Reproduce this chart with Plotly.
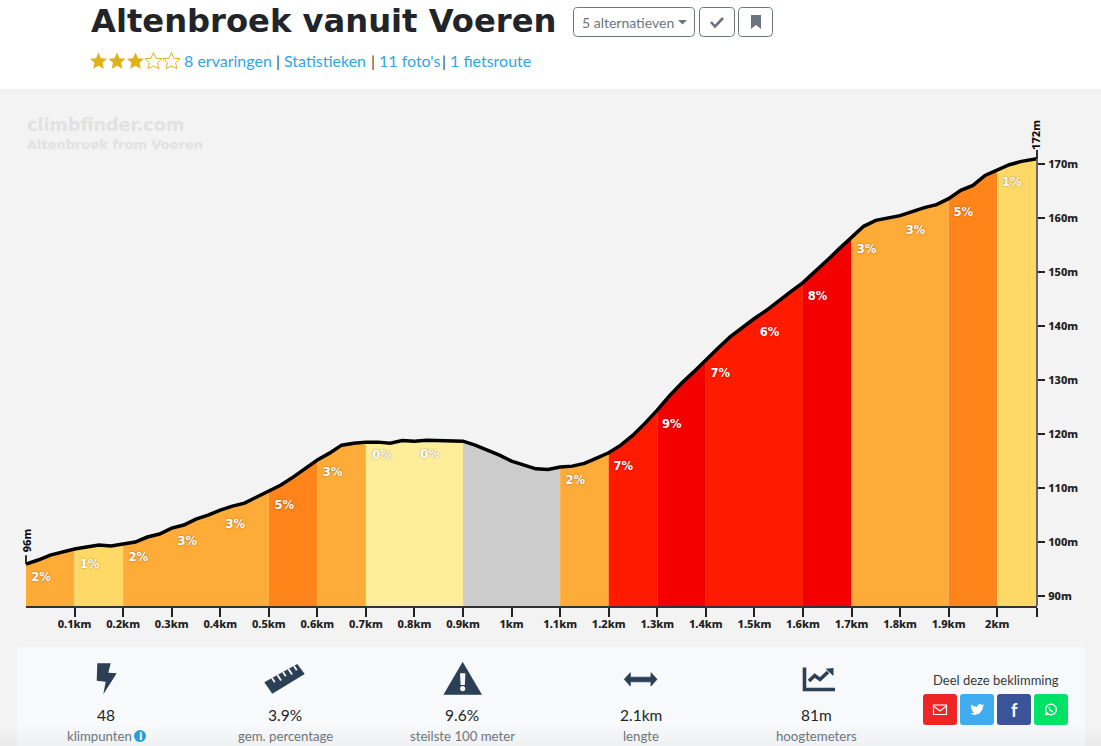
import plotly.graph_objects as go

W = 1101
H = 746

# profile, km and metres
km_points = [0, 0.025, 0.05, 0.075, 0.1, 0.125, 0.15, 0.175, 0.2, 0.225, 0.25, 0.275, 0.3, 0.325, 0.35,
             0.375, 0.4, 0.425, 0.45, 0.475, 0.5, 0.525, 0.55, 0.575, 0.6, 0.625, 0.65, 0.675, 0.7, 0.725,
             0.75, 0.775, 0.8, 0.825, 0.85, 0.875, 0.9, 0.925, 0.95, 0.975, 1.0, 1.025, 1.05, 1.075, 1.1,
             1.125, 1.15, 1.175, 1.2, 1.225, 1.25, 1.275, 1.3, 1.325, 1.35, 1.375, 1.4, 1.425, 1.45, 1.475,
             1.5, 1.525, 1.55, 1.575, 1.6, 1.625, 1.65, 1.675, 1.7, 1.725, 1.75, 1.775, 1.8, 1.825, 1.85,
             1.875, 1.9, 1.925, 1.95, 1.975, 2.0, 2.025, 2.05, 2.075, 2.082]
elevation = [95.93, 96.67, 97.59, 98.15, 98.70, 99.07, 99.44, 99.26, 99.63, 100.0, 100.93, 101.48, 102.59,
             103.15, 104.26, 105.0, 105.93, 106.67, 107.22, 108.33, 109.44, 110.56, 112.04, 113.70, 115.19,
             116.48, 117.96, 118.33, 118.52, 118.52, 118.33, 118.8, 118.7, 118.89, 118.83, 118.8, 118.7,
             117.96, 117.04, 116.11, 115.0, 114.26, 113.57, 113.46, 113.89, 114.07, 114.57, 115.56, 116.54,
             117.96, 119.81, 122.04, 124.44, 127.09, 129.44, 131.54, 133.83, 135.93, 138.02, 139.76, 141.43,
             142.96, 144.76, 146.43, 148.09, 150.06, 152.22, 154.39, 156.39, 158.52, 159.63, 160.06, 160.50,
             161.24, 161.98, 162.54, 163.65, 165.19, 166.11, 167.96, 169.02, 169.94, 170.56, 170.98, 171.06]

ORANGE = "#ffab38"
YELLOW = "#ffd966"
PALE = "#ffee99"
DARK = "#ff851b"
GREY = "#cccccc"
RED = "#ff1a00"
DEEP = "#f50000"

seg_edges = [0, 0.1, 0.2, 0.5, 0.6, 0.7, 0.9, 1.1, 1.2, 1.3, 1.4, 1.6, 1.7, 1.9, 2.0, 2.082]
seg_colors = [ORANGE, YELLOW, ORANGE, DARK, ORANGE, PALE, GREY, ORANGE, RED, DEEP, RED, DEEP, ORANGE, DARK, YELLOW]

grade_text = ["2%", "1%", "2%", "3%", "3%", "5%", "3%", "0%", "0%", "2%", "7%", "9%", "7%", "6%", "8%", "3%", "3%", "5%", "1%"]
grade_km = [0.031, 0.131, 0.231, 0.332, 0.431, 0.532, 0.631, 0.733, 0.832, 1.131, 1.23, 1.33, 1.43, 1.531, 1.63, 1.731, 1.832, 1.93, 2.03]
grade_elev = [93.4, 95.8, 97.1, 99.9, 103.2, 106.7, 112.7, 116.0, 116.2, 111.2, 113.8, 121.7, 131.2, 138.8, 145.4, 154.1, 157.7, 161.0, 166.6]

x_ticks = [0.1, 0.2, 0.3, 0.4, 0.5, 0.6, 0.7, 0.8, 0.9, 1.0, 1.1, 1.2, 1.3, 1.4, 1.5, 1.6, 1.7, 1.8, 1.9, 2.0, 2.082]
x_labels = ["0.1km", "0.2km", "0.3km", "0.4km", "0.5km", "0.6km", "0.7km", "0.8km", "0.9km", "1km", "1.1km",
            "1.2km", "1.3km", "1.4km", "1.5km", "1.6km", "1.7km", "1.8km", "1.9km", "2km", ""]
y_ticks = [90, 100, 110, 120, 130, 140, 150, 160, 170]
y_labels = ["90m", "100m", "110m", "120m", "130m", "140m", "150m", "160m", "170m"]

stat_values = ["48", "3.9%", "9.6%", "2.1km", "81m"]
stat_names = ["klimpunten", "gem. percentage", "steilste 100 meter", "lengte", "hoogtemeters"]
stat_x = [106, 285, 462, 641, 816]

BOLD = "DejaVu Sans"
AXIS = "Noto Sans"
BODY = "Lato"
INK = "#2b3f55"
LINK = "#2ea6e6"
MUTED = "#6c757d"


def px(x):
    return x / W


def py(y):
    return 1 - y / H


def poly(points):
    return "M " + " L ".join(f"{px(x):.5f},{py(y):.5f}" for x, y in points) + " Z"


shapes = []
annos = []


def box(x0, y0, x1, y1, fill, line=None, lw=1, opacity=None):
    s = dict(type="rect", xref="paper", yref="paper", x0=px(x0), x1=px(x1), y0=py(y0), y1=py(y1),
             fillcolor=fill, line=dict(color=line, width=lw) if line else dict(width=0), layer="below")
    if opacity is not None:
        s["opacity"] = opacity
    shapes.append(s)


def rounded(x0, y0, x1, y1, r, fill, line=None, lw=1):
    a, b, c, d = px(x0), px(x1), py(y0), py(y1)
    rx, ry = r / W, r / H
    path = (f"M {a + rx:.5f},{c:.5f} L {b - rx:.5f},{c:.5f} Q {b:.5f},{c:.5f} {b:.5f},{c - ry:.5f} "
            f"L {b:.5f},{d + ry:.5f} Q {b:.5f},{d:.5f} {b - rx:.5f},{d:.5f} L {a + rx:.5f},{d:.5f} "
            f"Q {a:.5f},{d:.5f} {a:.5f},{d + ry:.5f} L {a:.5f},{c - ry:.5f} Q {a:.5f},{c:.5f} {a + rx:.5f},{c:.5f} Z")
    shapes.append(dict(type="path", xref="paper", yref="paper", path=path, fillcolor=fill,
                       line=dict(color=line, width=lw) if line else dict(width=0), layer="below"))


def shape_poly(points, fill, line=None, lw=1):
    shapes.append(dict(type="path", xref="paper", yref="paper", path=poly(points), fillcolor=fill,
                       line=dict(color=line, width=lw) if line else dict(width=0), layer="below"))


def stroke(points, color, lw):
    path = "M " + " L ".join(f"{px(x):.5f},{py(y):.5f}" for x, y in points)
    shapes.append(dict(type="path", xref="paper", yref="paper", path=path,
                       line=dict(color=color, width=lw), layer="below"))


def circle(cx, cy, r, fill, line=None, lw=1):
    shapes.append(dict(type="circle", xref="paper", yref="paper", x0=px(cx - r), x1=px(cx + r),
                       y0=py(cy - r), y1=py(cy + r), fillcolor=fill,
                       line=dict(color=line, width=lw) if line else dict(width=0), layer="below"))


def text(x, y, s, size, color, family=BODY, weight=None, anchor="center"):
    font = dict(family=family, size=size, color=color)
    if weight:
        font["weight"] = weight
    annos.append(dict(x=px(x), y=py(y), xref="paper", yref="paper", text=s, showarrow=False,
                      xanchor=anchor, yanchor="middle", font=font, borderpad=0))


def star(cx, cy, r, filled):
    pts = []
    for dx, dy in [(0, -1), (0.28, -0.36), (0.95, -0.31), (0.45, 0.15), (0.59, 0.81),
                   (0, 0.48), (-0.59, 0.81), (-0.45, 0.15), (-0.95, -0.31), (-0.28, -0.36)]:
        pts.append((cx + dx * r, cy + dy * r))
    if filled:
        shape_poly(pts, "#dfb21d")
    else:
        shape_poly(pts, "rgba(0,0,0,0)", "#dfb21d", 1)


# page background
box(0, 89, W, H, "#f3f3f3")
box(17, 647, 1085, H, "#f8f9fa")
for i, y in enumerate(range(726, 746, 4)):
    box(0, y, W, y + 4, "#000000", opacity=0.006 * (i + 1))

# header
text(90, 21.5, "Altenbroek vanuit Voeren", 32.2, "#212529", family=BOLD, weight=700, anchor="left")
rounded(573.5, 7.5, 694.5, 36.5, 4, "#ffffff", MUTED)
rounded(699.5, 7.5, 734.5, 36.5, 4, "#ffffff", MUTED)
rounded(738.5, 7.5, 772.5, 36.5, 4, "#ffffff", MUTED)
text(580.5, 22, "5 alternatieven", 14, MUTED, anchor="left")
shape_poly([(678, 20), (687, 20), (682.5, 24.5)], MUTED)
stroke([(711, 22), (715, 26.5), (723, 18)], MUTED, 2.6)
shape_poly([(751, 15), (761, 15), (761, 29), (756, 25), (751, 29)], MUTED)

for cx, filled in zip([98.5, 117, 135.5, 153.5, 171.5], [True, True, True, False, False]):
    star(cx, 61.5, 9, filled)
text(182.5, 61, "8 ervaringen", 16, LINK, anchor="left")
text(275, 61, "|", 16, "#444444", anchor="left")
text(283, 61, "Statistieken", 16, LINK, anchor="left")
text(370, 61, "|", 16, "#444444", anchor="left")
text(378, 61, "11 foto's", 16, LINK, anchor="left")
text(441, 61, "|", 16, "#444444", anchor="left")
text(449, 61, "1 fietsroute", 16, LINK, anchor="left")

# watermark
text(26, 125, "climbfinder.com", 17.6, "#e2e2e2", family=BOLD, weight=700, anchor="left")
text(26, 144, "Altenbroek from Voeren", 13, "#e2e2e2", family=BOLD, weight=700, anchor="left")

# stats row
for x, v, n in zip(stat_x, stat_values, stat_names):
    text(x, 715, v, 15.5, "#212529")
    text(x if n != "klimpunten" else 99, 736, n, 13.2, MUTED)
circle(140, 736, 6, "#2a9fe0")
text(140, 736, "i", 10, "#ffffff", family=BOLD, weight=700)

# bolt
shape_poly([(97.3, 663.3), (110.7, 663.3), (108.3, 672.7), (116.7, 673.3), (103.3, 694.3), (105.7, 681.7), (96.7, 680.7)], INK)
# ruler
shape_poly([(264.3, 682.3), (297.3, 664), (304.7, 674), (272.3, 693.7)], INK)
for x, y, n in [(272, 678, 5), (277.5, 675, 6.5), (283, 672, 5), (288.5, 669, 6.5), (294, 666, 5)]:
    stroke([(x, y), (x + 0.55 * n, y + 0.85 * n)], "#f8f9fa", 1.8)
# warning
shape_poly([(462.7, 663.3), (480.7, 694), (444.7, 694)], INK, INK, 1.5)
shape_poly([(460, 673.3), (465.4, 673.3), (464.8, 685), (460.6, 685)], "#f8f9fa")
circle(462.7, 688.6, 2.6, "#f8f9fa")
# arrows
shape_poly([(624.3, 679.3), (630.3, 672.7), (630.3, 677.2), (651, 677.2), (651, 672.7), (657, 679.3),
            (651, 686), (651, 681.8), (630.3, 681.8), (630.3, 686)], INK, INK, 0.8)
# elevation icon
stroke([(804.5, 667.5), (804.5, 689.5), (835, 689.5)], INK, 3.6)
stroke([(809, 681), (814.7, 675.5), (820, 679.5), (828, 672)], INK, 3.6)
shape_poly([(825.5, 668.7), (833.5, 668), (833.5, 676)], INK)

# share box
text(995.5, 680, "Deel deze beklimming", 13, "#343a40")
rounded(923, 694, 957, 725, 3, "#ee2525")
rounded(960, 694, 994, 725, 3, "#41abf0")
rounded(997, 694, 1031, 725, 3, "#3b5398")
rounded(1034, 694, 1068, 725, 3, "#00e266")
box(933.5, 705, 946.5, 714.5, "rgba(0,0,0,0)", "#ffffff", 1.2)
stroke([(933.5, 706), (940, 711), (946.5, 706)], "#ffffff", 1.2)
bird = [(0, 0.85), (0.3, 0.82), (0.12, 0.6), (0.2, 0.58), (0.03, 0.32), (0.12, 0.35), (0.05, 0.05), (0.48, 0.3),
        (0.55, 0.08), (0.72, 0), (0.88, 0.08), (1, 0.03), (0.93, 0.2), (1, 0.17), (0.92, 0.3), (0.88, 0.55),
        (0.65, 0.88), (0.3, 1)]
shape_poly([(970 + 14 * a, 704 + 11 * b) for a, b in bird], "#ffffff")
text(1014.3, 709.5, "f", 18, "#ffffff", family="Lato", weight=700)
circle(1051, 709.5, 5.4, "rgba(0,0,0,0)", "#ffffff", 1.3)
shape_poly([(1045, 715.5), (1046, 712), (1048.5, 714.5)], "#ffffff")
stroke([(1049, 707), (1050, 710), (1053, 712)], "#ffffff", 1.3)

fig = go.Figure()

# one filled area per stretch of the climb
for start, end, color in zip(seg_edges[:-1], seg_edges[1:], seg_colors):
    xs = [k for k in km_points if start <= k <= end]
    ys = [e for k, e in zip(km_points, elevation) if start <= k <= end]
    fig.add_trace(go.Scatter(x=xs, y=ys, mode="lines", fill="tozeroy", fillcolor=color,
                             line=dict(width=0.5, color=color), hoverinfo="skip", showlegend=False))

fig.add_trace(go.Scatter(x=km_points, y=elevation, mode="lines", line=dict(color="#000000", width=3.5),
                         cliponaxis=False, hoverinfo="skip", showlegend=False))
fig.add_trace(go.Scatter(x=grade_km, y=grade_elev, mode="text", text=grade_text,
                         textfont=dict(family=BOLD, size=11.5, color="#ffffff", weight=700,
                                       shadow="0px 0px 2px rgba(0,0,0,0.45)"),
                         textposition="middle center", hoverinfo="skip", showlegend=False))

# right hand axis stops at the finish height
shapes.append(dict(type="line", xref="paper", yref="y", x0=px(1037), x1=px(1037), y0=88.146, y1=elevation[-1],
                   line=dict(color="#666666", width=2)))

# start and finish height markers
for k, e, label in [(km_points[0], elevation[0], "96m"), (km_points[-1], elevation[-1], "172m")]:
    x_paper = px(26) if k == 0 else px(1036)
    shapes.append(dict(type="line", xref="paper", yref="y", x0=px(26) if k == 0 else px(1037),
                       x1=px(26) if k == 0 else px(1037), y0=e, y1=e + 1.6,
                       line=dict(color="#000000", width=1.6)))
    annos.append(dict(x=x_paper, y=e + 4.4, xref="paper", yref="y", text=label, showarrow=False, textangle=-90,
                      xanchor="center", yanchor="middle",
                      font=dict(family=AXIS, size=11, color="#111111", weight=800)))

fig.update_layout(
    width=W,
    height=H,
    autosize=False,
    margin=dict(l=0, r=0, t=0, b=0),
    paper_bgcolor="#ffffff",
    plot_bgcolor="rgba(0,0,0,0)",
    showlegend=False,
    shapes=shapes,
    annotations=annos,
    xaxis=dict(domain=[px(26), px(1037)], range=[0, 2.082], tickmode="array", tickvals=x_ticks, ticktext=x_labels,
               ticks="outside", ticklen=9, tickwidth=1.5, tickcolor="#222222", showgrid=False, zeroline=False,
               showline=True, linecolor="#333333", linewidth=1.5, ticklabelstandoff=-2,
               tickfont=dict(family=AXIS, size=11, color="#222222", weight=800), tickangle=0),
    yaxis=dict(domain=[py(606), py(120)], range=[88.146, 178.229], side="right", tickmode="array",
               tickvals=y_ticks, ticktext=y_labels, ticks="outside", ticklen=7, tickwidth=1.5,
               tickcolor="#222222", showgrid=False, zeroline=False, showline=False, ticklabelstandoff=1,
               tickfont=dict(family=AXIS, size=11, color="#222222", weight=800)),
)

fig.write_html("out.html", config=dict(displayModeBar=False),
               post_script="document.body.style.margin='0';document.body.style.overflow='hidden';")
